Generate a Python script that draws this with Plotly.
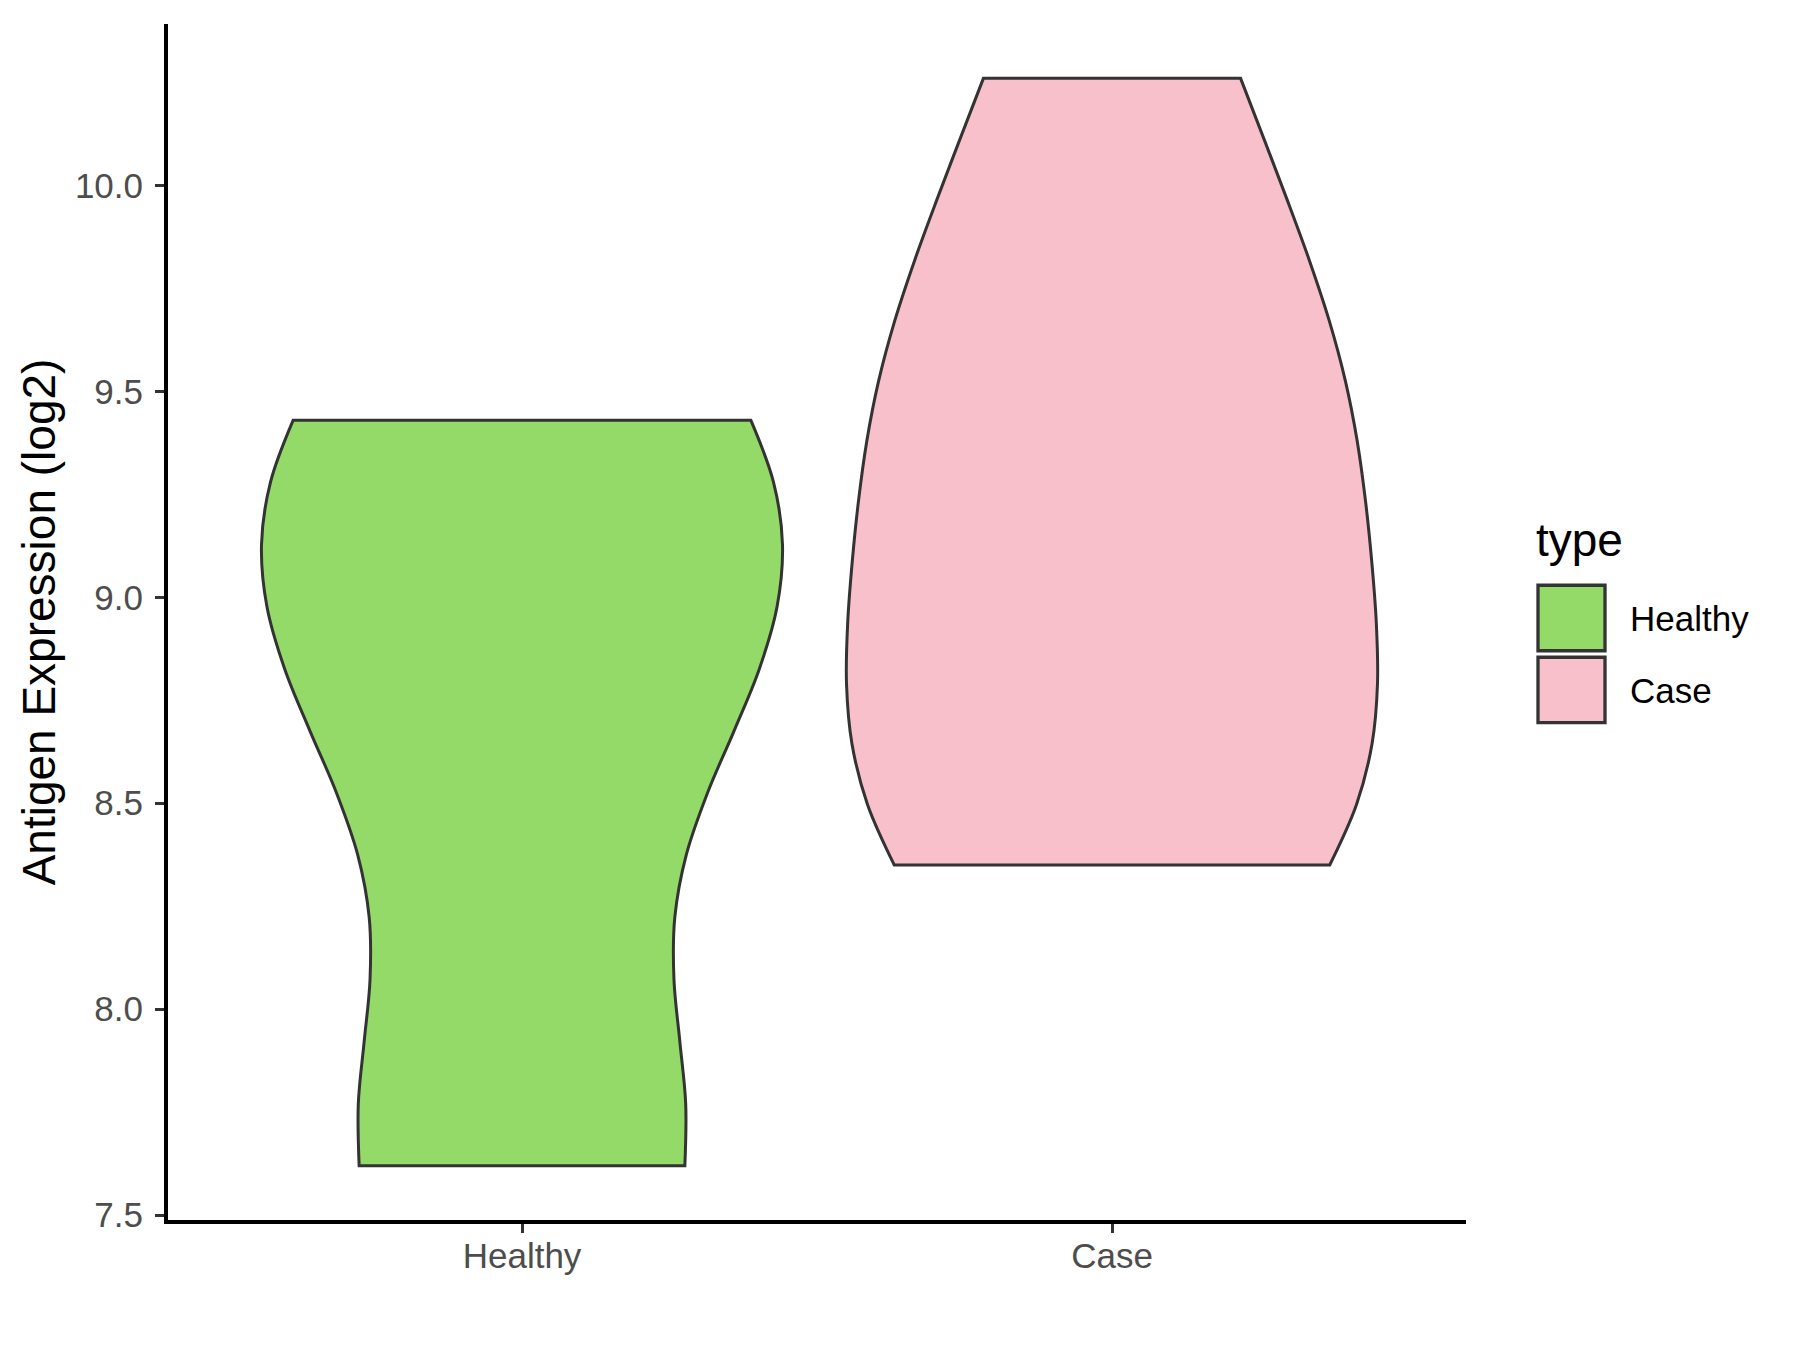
import plotly.graph_objects as go

# ---- data ----
categories = ["Healthy", "Case"]
fill_colors = ["#93DA69", "#F7C0CB"]
tick_vals = [7.5, 8.0, 8.5, 9.0, 9.5, 10.0]

healthy_values = [7.62, 7.62, 8.83, 8.83, 9.41, 9.43]
case_values = [8.35, 8.54, 8.84, 9.49, 9.49, 10.26]
bandwidths = [0.49, 0.474]
violin_widths = [0.883, 0.9]

series = [healthy_values, case_values]

fig = go.Figure()
for cat, col, vals, bw, wd in zip(categories, fill_colors, series, bandwidths, violin_widths):
    fig.add_trace(go.Violin(
        x=[cat] * len(vals), y=vals, name=cat, fillcolor=col,
        line=dict(color="#333333", width=3), points=False, spanmode="hard",
        bandwidth=bw, width=wd, scalemode="width", showlegend=False,
        box_visible=False, meanline_visible=False, opacity=1, hoveron="violins"))

# page geometry (the browser body adds an 8px offset)
W, H = 1800, 1350
OFF = 8
L, R, T, B = 168, 1466, 23.5, 1220  # plot area in page pixels


def px(x):
    return (x - L) / (R - L)


def py(y):
    return (B - y) / (B - T)


font_fam = "Liberation Sans, Arial, sans-serif"
fig.update_layout(
    width=W, height=H,
    margin=dict(l=L - OFF, r=W - (R - OFF), t=T - OFF, b=H - (B - OFF), autoexpand=False),
    paper_bgcolor="white", plot_bgcolor="white", violinmode="overlay",
    font=dict(family=font_fam),
    xaxis=dict(type="category", categoryorder="array", categoryarray=categories,
               range=[-0.6, 1.6], showline=True, linecolor="black", linewidth=4,
               ticks="outside", ticklen=9, tickwidth=2.6, tickcolor="#333333",
               ticklabelstandoff=-7,
               tickfont=dict(size=35, color="#4D4D4D"), showgrid=False, zeroline=False),
    yaxis=dict(range=[7.488, 10.392], tickvals=tick_vals, tickformat=".1f",
               showline=True, linecolor="black", linewidth=4,
               ticks="outside", ticklen=9, tickwidth=2.6, tickcolor="#333333",
               ticklabelstandoff=5,
               tickfont=dict(size=35, color="#4D4D4D"), showgrid=False, zeroline=False,
               title=dict(text="Antigen Expression (log2)", font=dict(size=46, color="black"), standoff=6)),
)

# legend drawn manually (ggplot-style square keys)
fig.add_annotation(x=px(1534), y=py(540), xref="paper", yref="paper", text="type", showarrow=False,
                   xanchor="left", yanchor="middle", font=dict(size=46, color="black"))
key_tops = [583.5, 655.5]
for cat, col, y0 in zip(categories, fill_colors, key_tops):
    fig.add_shape(type="rect", xref="paper", yref="paper", x0=px(1538), x1=px(1605),
                  y0=py(y0 + 1.5), y1=py(y0 + 67), fillcolor=col, line=dict(color="#333333", width=3.3))
    fig.add_annotation(x=px(1628), y=py(y0 + 34.5), xref="paper", yref="paper", text=cat, showarrow=False,
                       xanchor="left", yanchor="middle", font=dict(size=35, color="black"))

fig.write_html("out.html")
